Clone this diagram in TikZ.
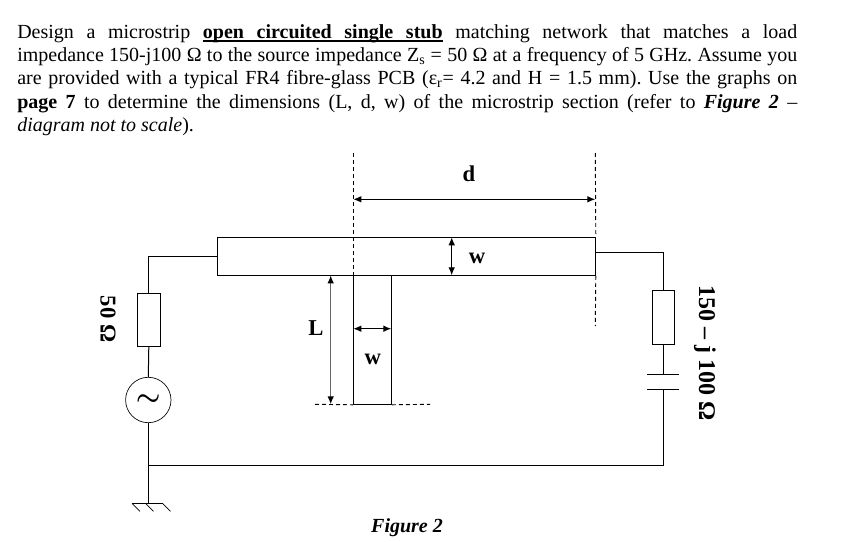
\documentclass[tikz,border=0pt]{standalone}
\usepackage{fontspec}
\usetikzlibrary{arrows.meta}
\setmainfont{Liberation Serif}
\def\px{0.75pt}
\tikzset{
  wire/.style={line width=0.75pt},
  block/.style={draw, line width=0.75pt, inner sep=0pt},
  guide/.style={line width=0.7pt, dash pattern=on 3pt off 2.25pt},
  dimline/.style={{Latex[length=6pt,width=5pt,black]}-{Latex[length=6pt,width=5pt,black]}, line width=0.9pt},
  bigtext/.style={font=\bfseries\fontsize{17}{20}\selectfont, inner sep=0pt},
}
\begin{document}
\frenchspacing
\begin{tikzpicture}[x=\px, y=-\px]%
   % 1 unit = one pixel of the reference, y runs downwards
   \useasboundingbox (0,0) rectangle (854,542);

   % Question text
   \node[anchor=north west, inner sep=0pt, text width=780*\px, align=justify,
         font=\fontsize{15}{17.5}\selectfont] (question) at (17,24)
     {Design a microstrip \textbf{open circuited single stub} matching network that matches a load\linebreak
      impedance 150-j100 Ω to the source impedance Z\textsubscript{s} = 50 Ω at a frequency of 5 GHz. Assume you\linebreak
      are provided with a typical FR4 fibre-glass PCB (ε\textsubscript{r}= 4.2 and H = 1.5 mm). Use the graphs on\linebreak
      \textbf{page 7} to determine the dimensions (L, d, w) of the microstrip section (refer to \textbf{\textit{Figure 2}} --\linebreak
      \textit{diagram not to scale}).};
   \draw[line width=1.5pt] (203,41.5) -- (443,41.5);

   % Microstrip line and stub
   \node[block, minimum width=378*\px, minimum height=38*\px] (line) at (406.3,256.3) {};
   \node[block, minimum width=38*\px, minimum height=129*\px] (stub) at (372.3,339.8) {};

   % Source side
   \node[block, minimum width=23*\px, minimum height=53*\px] (rs) at (148.8,319.8) {};
   \node[draw, circle, line width=0.5pt, minimum size=45.4*\px, inner sep=0pt,
         font=\fontsize{22}{22}\selectfont\boldmath] (gen) at (148.3,400) {$\sim$};
   \coordinate (jl) at (148.3,465);
   \coordinate (gnd) at (148.3,503.3);
   \draw[wire] (line.west) -| (rs.north);
   \draw[wire] (rs.south) -- (gen.north);
   \draw[wire] (gen.south) -- (gnd);

   % Ground
   \draw[wire, line width=0.6pt] (132,503.3) -- (163,503.3);
   \foreach \x in {132,145.5,162.5}
     \draw[line width=0.5pt] (\x,503.3) -- ++(8,8);

   % Load side
   \coordinate (wr) at (595.3,252.3);
   \node[block, minimum width=22*\px, minimum height=54*\px] (rl) at (663.3,317.3) {};
   \coordinate (capa) at (663.3,374.3);
   \coordinate (capb) at (663.3,389.3);
   \draw[wire] (wr) -| (rl.north);
   \draw[wire] (rl.south) -- (capa);
   \draw[wire] (647,374.3) -- (679,374.3);
   \draw[wire] (647,389.3) -- (679,389.3);
   \draw[wire] (capb) |- (jl);

   % Dashed helper lines
   \coordinate (gl) at (353.3,153);
   \coordinate (gr) at (595.3,153);
   \coordinate (gb) at (595.3,326);
   \draw[guide] (gl) -- (353.3,275.3);
   \draw[guide] (gr) -- (line.north east);
   \draw[guide] (line.south east) -- (gb);
   \draw[guide] (315,404.3) -- (stub.south west);
   \draw[guide] (stub.south east) -- (430,404.3);

   % Dimensions
   \coordinate (da) at (353.3,199.3);
   \coordinate (db) at (595.3,199.3);
   \draw[dimline] (da) -- (db);
   \draw[dimline] (451.7,237.3) -- (451.7,275.3);
   \draw[dimline] (353.3,328.7) -- (391.3,328.7);
   \draw[dimline, line width=1.1pt, black!60] (330.7,275.3) -- (330.7,404.3);

   % Labels
   \node[bigtext] (dlab) at (469,174) {d};
   \node[bigtext] (wlaba) at (477,258) {w};
   \node[bigtext] (llab) at (316,328) {L};
   \node[bigtext] (wlabb) at (372.7,359) {w};
   \node[bigtext, rotate=-90] (rslab) at (108,319) {50 Ω};
   \node[bigtext, font=\bfseries\fontsize{18}{20}\selectfont, rotate=-90] (rllab) at (705,353) {150 -- j 100 Ω};
   \node[inner sep=0pt, font=\bfseries\itshape\fontsize{15}{18}\selectfont] (figlab) at (407,528) {Figure 2};
\end{tikzpicture}
\end{document}
